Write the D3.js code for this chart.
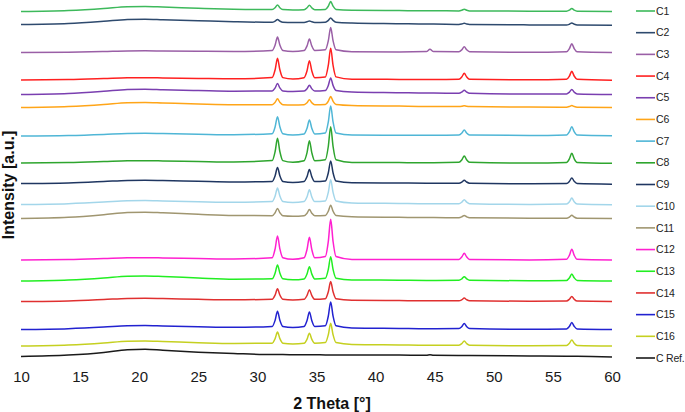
<!DOCTYPE html>
<html>
<head>
<meta charset="utf-8">
<script src="https://cdn.jsdelivr.net/npm/d3@7"></script>
<style>
  html, body { margin: 0; padding: 0; background: #fff; }
  svg { display: block; font-family: "Liberation Sans", Arial, sans-serif; }
</style>
</head>
<body>
<svg id="chart" width="685" height="412"></svg>
<script>
// ---- DATA ----
const twoTheta = [10, 14, 17, 19, 20.5, 22, 25, 28,
  31.25, 31.5, 31.7, 31.9, 32.15,
  33,
  33.95, 34.2, 34.4, 34.6, 34.85,
  35.75, 36.0, 36.2, 36.4, 36.65,
  38, 42, 44.3, 44.6, 44.9,
  47.05, 47.3, 47.5, 47.7, 47.95,
  53,
  56.15, 56.4, 56.6, 56.8, 57.05,
  60];

const seriesNames = ["C1","C2","C3","C4","C5","C6","C7","C8","C9","C10","C11","C12","C13","C14","C15","C16","C Ref."];
const seriesColors = ["#3db95b","#2e4a6e","#9a5fa6","#ff2020","#7a3fb0","#ffa518","#4fb6d6","#2ea52e","#1f3661","#a3d6ea","#a09670","#ff20d0","#22ee22","#e03030","#2222d0","#c5d020","#1a1a1a"];
// vertical stacking offsets (a.u.)
const offsets = [3605, 3475, 3195, 2920, 2775, 2645, 2360, 2090, 1885, 1675, 1535, 1120, 910, 705, 425, 260, 155];

const C1 = [0, 10, 30, 48, 50, 45, 33, 23, 19, 38, 66, 38, 19, 15, 18, 37, 63, 37, 18, 21, 53, 100, 53, 21, 13, 9, 7, 7, 7, 6, 13, 23, 13, 6, 3, 3, 14, 30, 14, 3, 0];
const C2 = [0, 10, 32, 50, 53, 48, 38, 28, 22, 34, 50, 34, 22, 20, 21, 27, 36, 27, 21, 23, 41, 66, 41, 23, 15, 8, 4, 4, 4, 1, 6, 13, 6, 1, -4, -5, 3, 14, 3, -5, -7];
const C3 = [0, 3, 10, 16, 17, 15, 12, 10, 20, 75, 154, 75, 20, 10, 19, 66, 134, 66, 19, 27, 118, 250, 118, 27, 8, 6, 9, 32, 9, 8, 28, 57, 28, 8, 2, 7, 40, 87, 40, 7, 0];
const C4 = [0, 4, 14, 22, 23, 21, 16, 12, 24, 103, 217, 103, 24, 10, 23, 92, 193, 92, 23, 31, 148, 317, 148, 31, 8, 6, 5, 5, 5, 8, 32, 67, 32, 8, 2, 7, 40, 87, 40, 7, -3];
const C5 = [0, 10, 32, 50, 53, 48, 40, 33, 36, 66, 110, 66, 36, 30, 34, 58, 93, 58, 34, 40, 91, 166, 91, 40, 25, 18, 14, 14, 14, 12, 25, 43, 25, 12, 5, 5, 24, 50, 24, 5, 0];
const C6 = [0, 10, 30, 48, 50, 45, 35, 28, 28, 52, 87, 52, 28, 24, 28, 48, 77, 48, 28, 30, 63, 110, 63, 30, 20, 14, 11, 11, 11, 9, 12, 17, 12, 9, 4, 3, 10, 20, 10, 3, 0];
const C7 = [0, 5, 16, 26, 27, 24, 18, 13, 23, 92, 193, 92, 23, 10, 21, 78, 160, 78, 21, 30, 141, 300, 141, 30, 9, 8, 7, 7, 7, 10, 30, 60, 30, 10, 5, 10, 44, 93, 44, 10, 3];
const C8 = [0, 4, 14, 22, 23, 21, 15, 10, 24, 115, 247, 115, 24, 7, 22, 104, 223, 104, 22, 32, 167, 363, 167, 32, 6, 4, 3, 3, 3, 7, 33, 70, 33, 7, 0, 5, 43, 97, 43, 5, -3];
const C9 = [0, 6, 20, 31, 33, 30, 22, 15, 21, 78, 160, 78, 21, 10, 19, 69, 140, 69, 19, 25, 107, 226, 107, 25, 8, 5, 3, 3, 3, 3, 15, 33, 15, 3, -3, -1, 22, 56, 22, -1, -7];
const C10 = [0, 8, 24, 38, 40, 36, 28, 22, 30, 85, 164, 85, 30, 20, 29, 77, 147, 77, 29, 36, 122, 247, 122, 36, 16, 10, 7, 7, 7, 8, 24, 47, 24, 8, 1, 4, 28, 64, 28, 4, -3];
const C11 = [0, 12, 38, 60, 63, 57, 42, 30, 28, 58, 100, 58, 28, 23, 28, 53, 90, 53, 28, 31, 73, 133, 73, 31, 18, 12, 9, 9, 9, 8, 17, 30, 17, 8, 3, 3, 15, 33, 15, 3, 0];
const C12 = [0, 4, 14, 22, 23, 21, 15, 10, 23, 112, 240, 112, 23, 7, 22, 106, 227, 106, 22, 35, 187, 407, 187, 35, 6, 5, 4, 4, 4, 6, 32, 67, 32, 6, 1, 7, 48, 107, 48, 7, 0];
const C13 = [0, 10, 30, 48, 50, 45, 30, 18, 22, 79, 160, 79, 22, 12, 21, 71, 143, 71, 21, 28, 116, 243, 116, 28, 10, 8, 6, 6, 6, 7, 22, 43, 22, 7, 2, 6, 32, 70, 32, 6, 0];
const C14 = [0, 6, 20, 31, 33, 30, 22, 17, 23, 65, 127, 65, 23, 15, 22, 61, 117, 61, 22, 28, 98, 200, 98, 28, 13, 9, 7, 7, 7, 7, 18, 34, 18, 7, 2, 4, 23, 50, 23, 4, 0];
const C15 = [0, 8, 24, 38, 40, 36, 28, 22, 31, 93, 183, 93, 31, 20, 31, 90, 176, 90, 31, 38, 135, 276, 135, 38, 16, 11, 8, 8, 8, 9, 30, 60, 30, 9, 2, 6, 32, 70, 32, 6, 0];
const C16 = [0, 10, 30, 48, 50, 45, 33, 25, 28, 74, 140, 74, 28, 20, 27, 68, 127, 68, 27, 34, 113, 227, 113, 34, 16, 11, 8, 8, 8, 8, 25, 50, 25, 8, 2, 5, 28, 60, 28, 5, 0];
const CRef = [0, 14, 40, 68, 73, 62, 43, 30, 20, 20, 20, 20, 19, 18, 17, 17, 17, 17, 17, 16, 16, 16, 16, 16, 15, 14, 12, 18, 12, 10, 10, 10, 10, 10, 5, 2, 2, 2, 2, 2, -4];

const seriesValues = [C1, C2, C3, C4, C5, C6, C7, C8, C9, C10, C11, C12, C13, C14, C15, C16, CRef];
const xTicks = [10, 15, 20, 25, 30, 35, 40, 45, 50, 55, 60];

// ---- DRAW ----
const svg = d3.select("#chart");
const x = d3.scaleLinear().domain([10, 60]).range([21, 612]);
const y = d3.scaleLinear().domain([0, 3720]).range([372, 0]);

const line = d3.line()
  .x(d => x(d[0]))
  .y(d => y(d[1]))
  .curve(d3.curveMonotoneX);

const g = svg.append("g");
seriesValues.forEach((vals, i) => {
  const pts = twoTheta.map((t, j) => [t, vals[j] + offsets[i]]);
  g.append("path")
    .datum(pts)
    .attr("fill", "none")
    .attr("stroke", seriesColors[i])
    .attr("stroke-width", 1.5)
    .attr("stroke-linejoin", "round")
    .attr("d", line);
});

// x axis (labels only)
const xAxis = svg.append("g")
  .attr("transform", "translate(0,368)")
  .call(d3.axisBottom(x).tickValues(xTicks).tickSize(0).tickPadding(3).tickFormat(d3.format("d")));
xAxis.select(".domain").remove();
xAxis.selectAll("text")
  .attr("font-size", 15)
  .attr("font-family", "'Liberation Sans', Arial, sans-serif")
  .attr("fill", "#1a1a1a");

svg.append("text")
  .attr("x", 332).attr("y", 409)
  .attr("text-anchor", "middle")
  .attr("font-size", 16).attr("font-weight", "bold")
  .attr("fill", "#111")
  .text("2 Theta [°]");

svg.append("text")
  .attr("transform", "translate(14,185) rotate(-90)")
  .attr("text-anchor", "middle")
  .attr("font-size", 16).attr("font-weight", "bold")
  .attr("fill", "#111")
  .text("Intensity [a.u.]");

// legend
const legendY = d3.scalePoint().domain(seriesNames).range([11, 358]);
const leg = svg.append("g");
seriesNames.forEach((n, i) => {
  const yy = legendY(n);
  leg.append("line")
    .attr("x1", 636).attr("x2", 655)
    .attr("y1", yy).attr("y2", yy)
    .attr("stroke", seriesColors[i]).attr("stroke-width", 1.6);
  leg.append("text")
    .attr("x", 656).attr("y", yy)
    .attr("dy", "0.35em")
    .attr("font-size", 10.5)
    .attr("letter-spacing", "-0.2")
    .attr("fill", "#222")
    .text(n);
});
</script>
</body>
</html>
